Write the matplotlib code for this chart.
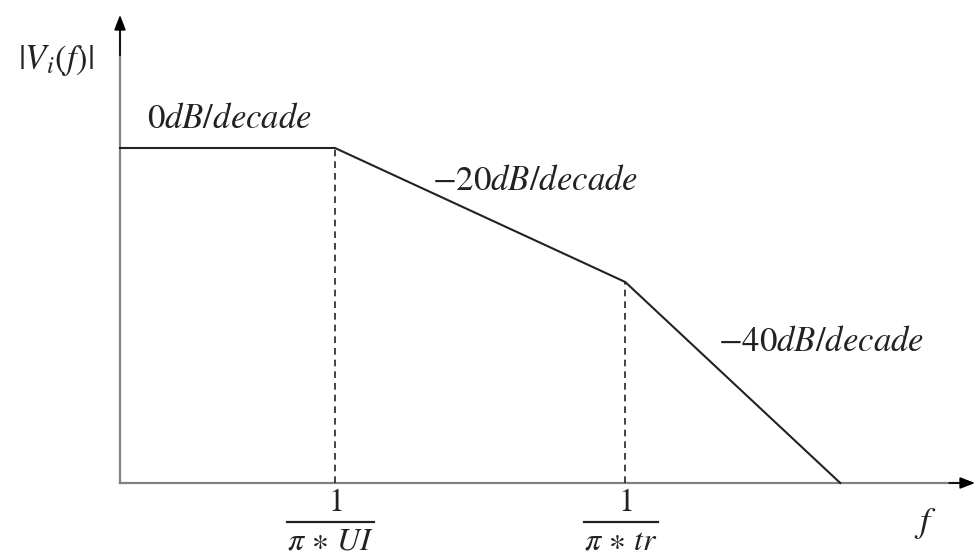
import matplotlib
matplotlib.use("Agg")
import matplotlib.pyplot as plt

plt.rcParams["mathtext.fontset"] = "stix"

# corner points of the asymptotic magnitude plot (normalised units)
freq = [0.0, 1.0, 2.35, 3.35]
mag = [1.0, 1.0, 0.6, 0.0]
break_freq = [1.0, 2.35]
break_mag = [1.0, 0.6]
break_denoms = [r"$\pi\,\ast\,UI$", r"$\pi\,\ast\,tr$"]
slope_labels = [r"$0dB/decade$", r"$-20dB/decade$", r"$-40dB/decade$"]
slope_pos = [(0.51, 1.09), (1.93, 0.905), (3.26, 0.425)]

fig = plt.figure(figsize=(9.77, 5.56), dpi=100)
ax = fig.add_axes([0, 0, 1, 1])
ax.set_xlim(-120 / 215, 857 / 215)
ax.set_ylim(-73 / 335, 483 / 335)
ax.axis("off")

ink = "#222222"
axis_col = "#808080"
x_end, y_end = 855 / 215, 468 / 335
ax.plot([0, x_end - 0.03], [0, 0], color=axis_col, lw=1.6)
ax.plot([0, 0], [0, y_end - 0.03], color=axis_col, lw=1.6)
ax.annotate("", xy=(x_end, 0), xytext=(x_end - 0.12, 0),
            arrowprops=dict(arrowstyle="-|>,head_length=0.9,head_width=0.35",
                            color="black", lw=1.2, shrinkA=0, shrinkB=0))
ax.annotate("", xy=(0, y_end), xytext=(0, y_end - 0.12),
            arrowprops=dict(arrowstyle="-|>,head_length=0.9,head_width=0.35",
                            color="black", lw=1.2, shrinkA=0, shrinkB=0))

ax.plot(freq, mag, color=ink, lw=1.5, solid_joinstyle="miter")
for bf, bm in zip(break_freq, break_mag):
    ax.plot([bf, bf], [0, bm], color=ink, lw=1.2, ls=(0, (4, 3)))

# fraction labels 1 / (pi * ...) under each break frequency
for bf, den in zip(break_freq, break_denoms):
    ax.text(bf, -0.057, "$1$", fontsize=23, ha="center", va="center", color=ink)
    t = ax.text(bf - 0.02, -0.172, den, fontsize=23, ha="center", va="center", color=ink)
    fig.canvas.draw()
    bb = t.get_window_extent().transformed(ax.transData.inverted())
    ax.plot([bb.x0, bb.x1], [-0.117, -0.117], color=ink, lw=1.6)

for (x, y), lab in zip(slope_pos, slope_labels):
    ax.text(x, y, lab, fontsize=25, ha="center", va="center", color=ink)

ax.text(-0.3, 1.26, r"$|V_i(f)|$", fontsize=25, ha="center", va="center", color=ink)
ax.text(3.745, -0.12, r"$f$", fontsize=26, ha="center", va="center", color=ink)

fig.savefig("out.png", dpi=100)
plt.close(fig)
